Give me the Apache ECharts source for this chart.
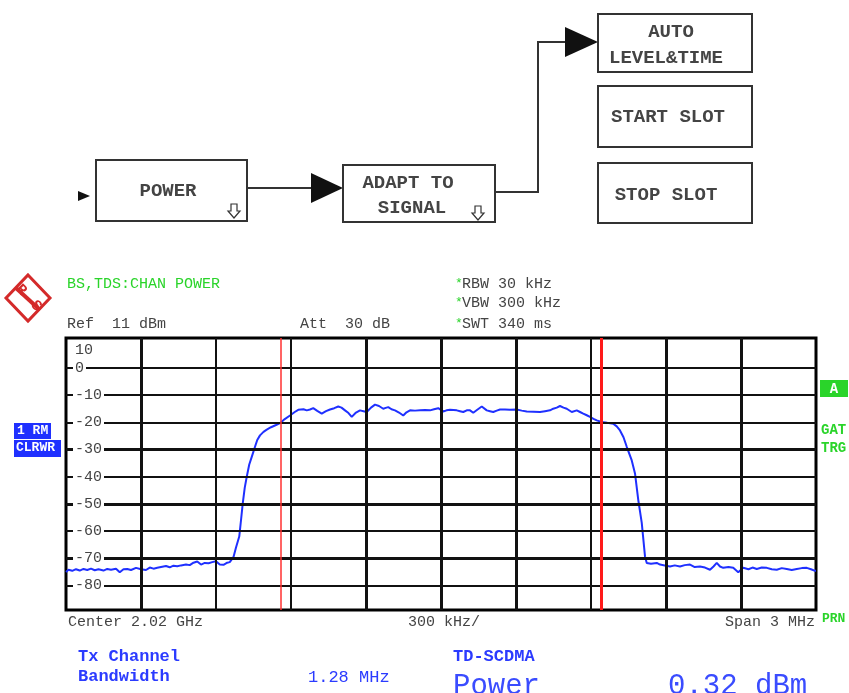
<!DOCTYPE html>
<html><head><meta charset="utf-8">
<script src="https://cdn.jsdelivr.net/npm/echarts@6/dist/echarts.min.js"></script>
<style>html,body{margin:0;padding:0;background:#fff}#c{width:849px;height:693px}</style>
</head><body><div id="c"></div>
<script>
// ---- data (frequency offset from centre in kHz, level in dBm) ----
const freqKHz = [
 -1500,-1490,-1475,-1460,-1445,-1430,-1415,-1400,-1385,-1370,-1350,-1335,-1320,-1300,-1285,-1270,-1255,-1240,-1220,-1200,
 -1180,-1165,-1150,-1135,-1120,-1100,-1085,-1070,-1055,-1040,-1020,-1005,-990,-975,-960,-945,-930,-915,-900,-885,-870,-855,-845,
 -830,-820,-807,-800,-793,-785,-777,-767,-757,-744,-735,-724,-710,-697,-680,-660,-644,-625,-604,-585,-571,
 -564,-550,-537,-524,-511,-495,-477,-460,-444,-427,-411,-398,-384,-370,-357,-340,-324,-310,-297,-280,-264,-248,-231,-221,-211,
 -198,-184,-168,-151,-138,-124,-104,-84,-64,-44,-28,-11,9,22,36,50,63,76,89,103,116,129,145,163,183,196,209,223,236,256,276,
 303,323,343,370,396,416,436,449,463,476,490,503,523,543,556,569,583,596,610,623,643,665,689,703,716,730,743,763,776,789,803,816,823,
 840,863,876,895,916,935,956,975,996,1015,1036,1056,1076,1090,1103,1116,1129,1150,1169,1189,1209,1230,1246,1263,1283,1303,1323,
 1343,1363,1383,1403,1423,1443,1463,1480,1496,1500
];
const levelDb = [
 -75.0,-74.2,-74.6,-74.0,-74.5,-73.9,-74.3,-73.8,-74.4,-74.0,-74.5,-73.9,-74.2,-73.8,-75.1,-74.0,-73.9,-74.3,-73.5,-74.0,
 -74.3,-73.4,-73.8,-73.5,-73.2,-72.8,-73.3,-72.7,-72.9,-72.6,-72.3,-72.5,-71.6,-71.2,-72.3,-71.7,-71.8,-71.4,-71.1,-72.3,-72.4,-71.6,-71.4,
 -69.5,-66.0,-62.0,-56.0,-49.8,-44.0,-40.0,-35.5,-32.7,-29.0,-26.5,-24.8,-23.5,-22.7,-21.8,-21.0,-20.3,-18.8,-17.5,-16.2,-15.4,
 -15.0,-15.2,-15.6,-15.3,-14.8,-15.8,-16.8,-15.9,-15.3,-14.8,-14.2,-14.6,-15.6,-16.6,-18.0,-16.4,-15.6,-15.9,-16.2,-14.6,-13.5,-14.0,-15.0,-14.7,-14.4,
 -15.2,-15.6,-16.4,-17.5,-16.3,-15.6,-15.7,-15.6,-15.5,-15.6,-15.2,-14.8,-16.0,-15.6,-15.4,-15.5,-15.6,-15.9,-16.2,-15.6,-15.6,-16.5,-15.4,-14.2,-15.6,-15.9,-16.2,-15.7,-15.3,-15.3,-15.4,
 -15.3,-15.7,-16.0,-16.1,-16.2,-15.9,-15.6,-15.0,-14.6,-14.0,-14.6,-15.0,-16.2,-15.6,-16.2,-16.8,-17.4,-18.0,-18.7,-19.3,-19.9,-20.2,-20.5,-21.5,-23.0,-25.5,-29.0,-34.0,-38.8,-48.5,-57.0,-69.3,-71.7,
 -72.0,-71.7,-72.3,-72.6,-73.0,-72.6,-73.0,-72.5,-72.3,-73.2,-73.0,-73.4,-74.2,-73.0,-71.7,-73.0,-73.5,-73.2,-73.5,-75.1,-73.5,-74.0,-73.4,-73.9,-73.4,-73.5,-74.0,
 -74.2,-73.6,-73.9,-74.3,-73.9,-73.6,-73.5,-74.0,-74.6,-74.6
];
const yTickValues = [0,-10,-20,-30,-40,-50,-60,-70,-80];
const yThick = [-30,-50,-70];
const xGridKHz = [-1200,-900,-600,-300,0,300,600,900,1200];
const xThin = [-900,-600,600];
const markerKHz = [-640, 640];
const yTopLabel = '10';

const MONO = '"Liberation Mono","DejaVu Sans Mono",monospace';
const chart = echarts.init(document.getElementById('c'), null, {renderer:'canvas'});

const gridLines = [];
yTickValues.forEach(v => gridLines.push({yAxis: v, lineStyle:{color:'#111', width: yThick.includes(v)?3:2, type:'solid'}}));
xGridKHz.forEach(v => gridLines.push({xAxis: v, lineStyle:{color:'#111', width: xThin.includes(v)?2:3, type:'solid'}}));

const base = {
  animation:false,
  backgroundColor:'#fff',
  grid:{left:66, top:338, width:750, height:272, show:true, borderColor:'#000', borderWidth:3, backgroundColor:'#fff'},
  xAxis:{type:'value', min:-1500, max:1500, interval:300, axisLabel:{show:false}, axisLine:{show:false}, axisTick:{show:false}, splitLine:{show:false}},
  yAxis:{type:'value', min:-89, max:11, axisLabel:{show:false}, axisLine:{show:false}, axisTick:{show:false}, splitLine:{show:false}},
  series:[
    {type:'line', data:[], z:1, silent:true,
     markLine:{silent:true, symbol:['none','none'], label:{show:false}, animation:false, data:gridLines}},
    {type:'line', data:[], z:2, silent:true,
     markLine:{silent:true, symbol:['none','none'], label:{show:false}, animation:false,
       data:[{xAxis:markerKHz[0], lineStyle:{color:'#ff3030', width:1.5, type:'solid'}},
             {xAxis:markerKHz[1], lineStyle:{color:'#ff1a1a', width:3, type:'solid'}}]}},
    {type:'line', z:3, showSymbol:false, silent:true,
     data:freqKHz.map((f,i)=>[f, levelDb[i]]),
     lineStyle:{color:'#1f30ff', width:2}}
  ]
};
chart.setOption(base);

const yPx = v => chart.convertToPixel({gridIndex:0}, [0, v])[1];

function T(x, y, s, o){
  o = o || {};
  return {type:'text', x:x, y:y, z:100, silent:true, rotation:o.rot||0,
    style:Object.assign({text:s, fill:o.fill||'#444', font:(o.weight||'normal')+' '+(o.size||15)+'px '+MONO,
      align:o.align||'left', verticalAlign:'middle'}, o.extra||{})};
}
function R(x,y,w,h,fill,stroke,lw){
  return {type:'rect', z:99, silent:true, shape:{x:x,y:y,width:w,height:h}, style:{fill:fill, stroke:stroke||null, lineWidth:lw||0}};
}
function P(points, fill, stroke, lw){
  return {type:'polygon', z:99, silent:true, shape:{points:points}, style:{fill:fill, stroke:stroke||null, lineWidth:lw||0}};
}
function L(points, stroke, lw){
  return {type:'polyline', z:99, silent:true, shape:{points:points}, style:{fill:null, stroke:stroke, lineWidth:lw}};
}
function downArrow(cx, y){
  return P([[cx-3,y],[cx+3,y],[cx+3,y+7],[cx+6,y+7],[cx,y+14],[cx-6,y+7],[cx-3,y+7]], '#fff', '#333', 1.2);
}

const DG = '#333';
const diag = [
  P([[78,191],[90,196],[78,201]], '#111'),
  R(96,160,151,61,'#fff',DG,2),
  T(168,191,'POWER',{size:19, weight:'bold', align:'center', fill:'#444'}),
  downArrow(234,204),
  L([[247,188],[312,188]], DG, 2),
  P([[311,173],[343,188],[311,203]], '#111'),
  R(343,165,152,57,'#fff',DG,2),
  T(408,183,'ADAPT TO',{size:19, weight:'bold', align:'center', fill:'#444'}),
  T(412,208,'SIGNAL',{size:19, weight:'bold', align:'center', fill:'#444'}),
  downArrow(478,206),
  L([[495,192],[538,192],[538,42],[566,42]], DG, 2),
  P([[565,27],[598,42],[565,57]], '#111'),
  R(598,14,154,58,'#fff',DG,2),
  T(671,32,'AUTO',{size:19, weight:'bold', align:'center', fill:'#444'}),
  T(666,58,'LEVEL&TIME',{size:19, weight:'bold', align:'center', fill:'#444'}),
  R(598,86,154,61,'#fff',DG,2),
  T(668,117,'START SLOT',{size:19, weight:'bold', align:'center', fill:'#444'}),
  R(598,163,154,60,'#fff',DG,2),
  T(666,195,'STOP SLOT',{size:19, weight:'bold', align:'center', fill:'#444'})
];

const GREEN = '#2ad42a';
const BLUE = '#1f30ff';
const RED = '#d42a2a';
const header = [
  // R&S logo
  P([[28,275],[50,298],[28,321],[6,298]], '#fff', RED, 3),
  L([[16,288],[40,310]], RED, 4),
  T(21,290,'R',{size:15, weight:'bold', fill:RED, align:'center', rot:-Math.PI/4}),
  T(36,306,'S',{size:15, weight:'bold', fill:RED, align:'center', rot:-Math.PI/4}),
  T(67,284,'BS,TDS:CHAN POWER',{fill:GREEN}),
  T(455,284,'*',{fill:GREEN, size:13}),
  T(462,284,'RBW 30 kHz'),
  T(455,303,'*',{fill:GREEN, size:13}),
  T(462,303,'VBW 300 kHz'),
  T(455,324,'*',{fill:GREEN, size:13}),
  T(462,324,'SWT 340 ms'),
  T(67,324,'Ref  11 dBm'),
  T(300,324,'Att  30 dB'),
  R(14,423,37,16,BLUE),
  T(17,431,'1 RM',{fill:'#fff', weight:'bold', size:13}),
  R(14,440,47,17,BLUE),
  T(16,448,'CLRWR',{fill:'#fff', weight:'bold', size:13}),
  R(820,380,28,17,GREEN),
  T(834,389,'A',{fill:'#fff', weight:'bold', size:14, align:'center'}),
  T(821,430,'GAT',{fill:GREEN, weight:'bold', size:14}),
  T(821,448,'TRG',{fill:GREEN, weight:'bold', size:14}),
  T(822,619,'PRN',{fill:GREEN, weight:'bold', size:13}),
  T(68,622,'Center 2.02 GHz'),
  T(408,622,'300 kHz/'),
  T(815,622,'Span 3 MHz',{align:'right'}),
  T(78,657,'Tx Channel',{fill:'#2b3bff', weight:'bold', size:17}),
  T(78,677,'Bandwidth',{fill:'#2b3bff', weight:'bold', size:17}),
  T(308,677,'1.28 MHz',{fill:'#2b3bff', size:17}),
  T(453,657,'TD-SCDMA',{fill:'#2b3bff', weight:'bold', size:17}),
  T(453,686,'Power',{fill:'#3a4cff', size:29}),
  T(668,686,'0.32 dBm',{fill:'#3a4cff', size:29})
];

const ylabels = [T(75, 350, yTopLabel, {size:15})];
yTickValues.forEach(v => {
  ylabels.push(T(73, yPx(v), String(v), {size:15, extra:{backgroundColor:'#fff', padding:[0,2,0,2]}}));
});

chart.setOption({graphic:{elements: diag.concat(header, ylabels)}});
</script>
</body></html>
